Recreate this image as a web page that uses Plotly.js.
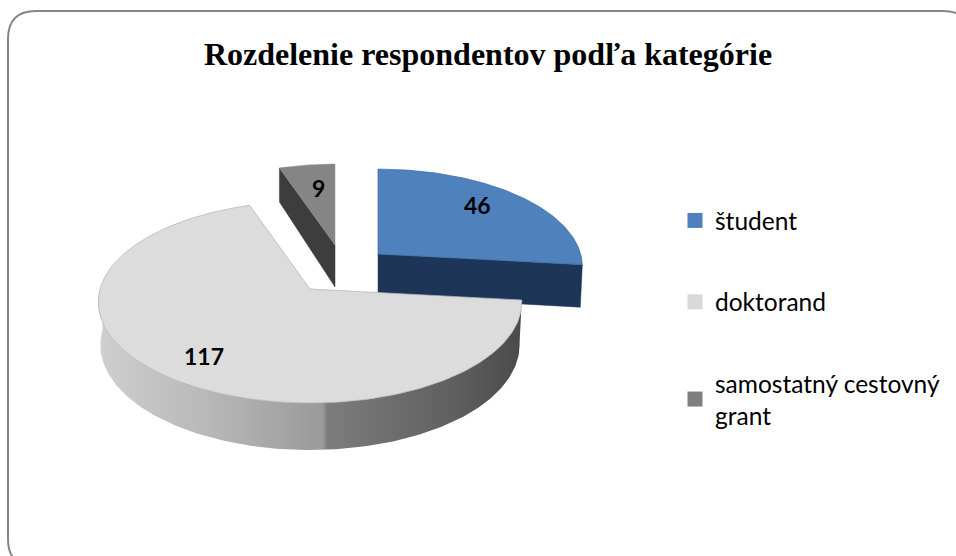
<!DOCTYPE html>
<html>
<head>
<meta charset="utf-8">
<script src="https://cdn.plot.ly/plotly-3.0.1.min.js"></script>
<style>html,body{margin:0;padding:0;background:#fff}#chart{width:956px;height:556px}</style>
</head>
<body>
<div id="chart"></div>
<script>
const categories = ['študent', 'doktorand', 'samostatný cestovný<br>grant'];
const values = [46, 117, 9];
const topColors = ['#4f81bd', '#dcdcdc', '#858585'];
const legendColors = ['#4f81bd', '#d9d9d9', '#7f7f7f'];
const chartTitle = 'Rozdelenie respondentov podľa kategórie';

// 3D pie view: one exploded position per slice, in the chart's own coordinates
const apexX = [378, 310, 335];
const apexY = [254, 289, 245];
const scale = [0.965, 1, 0.92];
const labelX = [477, 204, 318];
const labelY = [205, 356, 188];
const R = 210, H = 99.3, K = 0.129;

const total = values.reduce((a, b) => a + b, 0);
function topPt(i, deg) {
  const a = deg * Math.PI / 180, u = Math.sin(a), v = Math.cos(a), p = 1 + K * v;
  return [apexX[i] + scale[i] * R * u / p, apexY[i] - scale[i] * H * v / p];
}
function depth(deg) { return 42 - 5 * Math.cos(deg * Math.PI / 180); }
function botPt(i, deg) {
  const t = topPt(i, deg);
  return [apexX[i] + (t[0] - apexX[i]) * 0.99, t[1] + depth(deg)];
}
function arc(fn, i, a, b) {
  const n = Math.max(2, Math.round(Math.abs(b - a)));
  const out = [];
  for (let k = 0; k <= n; k++) out.push(fn(i, a + (b - a) * k / n));
  return out;
}
function poly(pts, extra) {
  return Object.assign({
    x: pts.map(p => p[0]).concat([pts[0][0]]),
    y: pts.map(p => p[1]).concat([pts[0][1]]),
    mode: 'lines', type: 'scatter', fill: 'toself', hoverinfo: 'skip', showlegend: false
  }, extra);
}

const starts = [], ends = [];
let acc = 0;
values.forEach(v => { starts.push(acc / total * 360); acc += v; ends.push(acc / total * 360); });

const traces = [];
// samostatný cestovný grant: cut wall, then top
{
  const i = 2, s = starts[i], e = ends[i];
  const ap = [apexX[i], apexY[i]];
  const t = topPt(i, s), b = [t[0], t[1] + depth(0) - 3];
  traces.push(poly([t, ap, [ap[0], ap[1] + 42], b], { fillcolor: '#3d3d3d', line: { color: '#3d3d3d', width: 0.5 } }));
  traces.push(poly([ap].concat(arc(topPt, i, s, e)), { fillcolor: topColors[i], line: { color: '#8e8e8e', width: 0.5 } }));
}
// študent: front cut wall, then top
{
  const i = 0, s = starts[i], e = ends[i];
  const ap = [apexX[i], apexY[i]];
  const t = topPt(i, e), b = botPt(i, e);
  traces.push(poly([ap, t, b, [ap[0], ap[1] + 42]], { fillcolor: '#1d3557', line: { color: '#1d3557', width: 0.5 } }));
  traces.push(poly([ap].concat(arc(topPt, i, s, e)), { fillcolor: topColors[i], line: { color: '#3f6fa8', width: 0.75 } }));
}
// doktorand: outer wall with its shading, then top
{
  const i = 1, s = starts[i], e = ends[i];
  const ap = [apexX[i], apexY[i]];
  const wall = arc(topPt, i, s, 272).concat(arc(botPt, i, 272, s));
  traces.push(poly(wall, {
    line: { color: 'rgba(0,0,0,0)', width: 0 },
    fillgradient: { type: 'horizontal', colorscale: [
      [0, '#cfcfcf'], [0.25, '#b9b9b9'], [0.53, '#9a9a9a'], [0.54, '#7d7d7d'], [0.85, '#5e5e5e'], [1, '#4a4a4a']
    ] }
  }));
  traces.push(poly([ap].concat(arc(topPt, i, s, e)), { fillcolor: topColors[i], line: { color: '#b5b5b5', width: 0.75 } }));
}
// legend entries
categories.forEach((c, i) => traces.push({
  x: [null], y: [null], type: 'scatter', mode: 'markers', name: c, legendgroup: 'g' + i,
  marker: { symbol: 'square', size: 15, color: legendColors[i] }, showlegend: true, hoverinfo: 'skip'
}));

const layout = {
  width: 956, height: 556,
  margin: { l: 0, r: 0, t: 0, b: 0 },
  paper_bgcolor: '#fff', plot_bgcolor: '#fff',
  title: { text: '<b>' + chartTitle + '</b>', x: 488 / 956, xanchor: 'center', y: 1 - 54 / 556, yanchor: 'middle',
           font: { family: '"Liberation Serif", serif', size: 32, color: '#000' } },
  xaxis: { range: [0, 956], visible: false, fixedrange: true },
  yaxis: { range: [556, 0], visible: false, fixedrange: true },
  legend: { x: 675 / 956, xanchor: 'left', y: 1 - 198 / 556, yanchor: 'top', traceorder: 'grouped', tracegroupgap: 46.5,
            font: { family: 'Lato, sans-serif', size: 24.5, color: '#000' }, itemwidth: 30, bgcolor: 'rgba(0,0,0,0)' },
  shapes: [{
    type: 'path', layer: 'below',
    path: 'M 8 39 Q 8 11 36 11 L 943 11 Q 971 11 971 39 L 971 539 Q 971 567 943 567 L 36 567 Q 8 567 8 539 Z',
    line: { color: '#868686', width: 2 }, fillcolor: '#fff'
  }],
  annotations: values.map((v, i) => ({
    x: labelX[i], y: labelY[i], xref: 'x', yref: 'y', text: '<b>' + v + '</b>', showarrow: false,
    font: { family: 'Lato, sans-serif', size: 23, color: '#000' }
  }))
};
Plotly.newPlot('chart', traces, layout, { displayModeBar: false, staticPlot: true });
</script>
</body>
</html>
